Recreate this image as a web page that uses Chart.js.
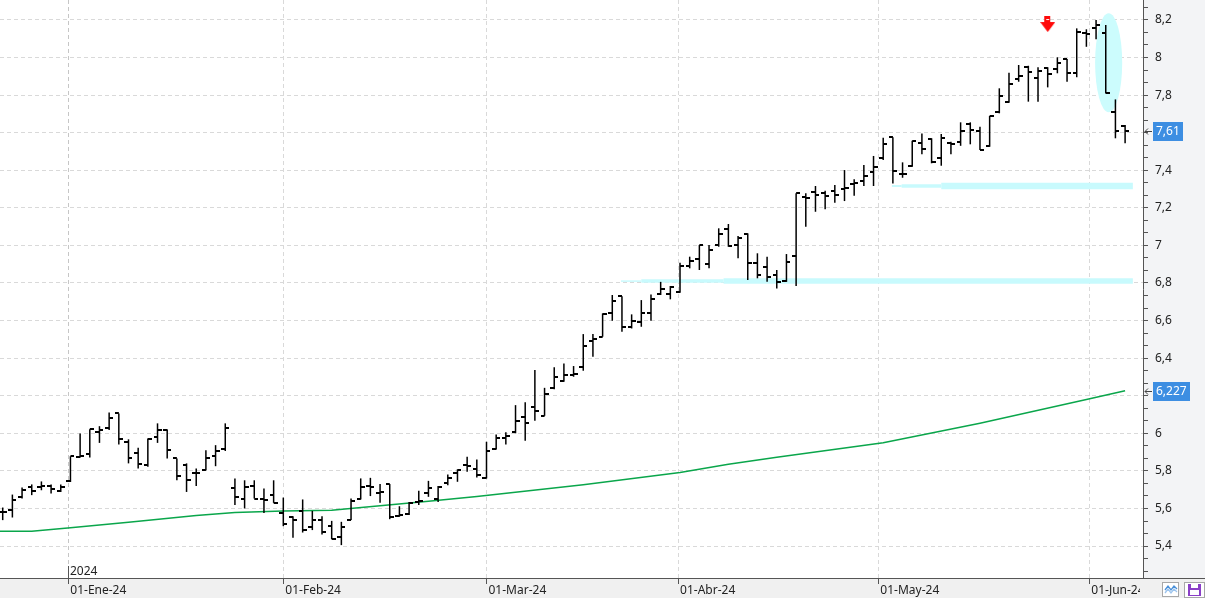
<!DOCTYPE html>
<html>
<head>
<meta charset="utf-8">
<title>Cotización diaria</title>
<script src="https://cdn.jsdelivr.net/npm/chart.js@4.4.1/dist/chart.umd.min.js"></script>
<style>
  html, body { margin: 0; padding: 0; background: #fff; }
  #chart { display: block; }
</style>
</head>
<body>
<canvas id="chart" width="1205" height="598"></canvas>
<script>
// Daily sessions, 19-Dic-23 .. 06-Jun-24 (x = position in these arrays)
const openPrices = [
  5.579, 5.591, 5.662, 5.715, 5.713, 5.719, 5.692, 5.745, 5.874, 5.892,
  6.008, 6.029, 6.106, 5.955, 5.897, 5.831, 5.978, 6.020, 5.866, 5.831,
  5.787, 5.807, 5.878, 5.919, 5.710, 5.653, 5.719, 5.653, 5.671, 5.576,
  5.552, 5.587, 5.499, 5.538, 5.506, 5.449, 5.541, 5.653, 5.719, 5.685,
  5.730, 5.559, 5.570, 5.635, 5.683, 5.650, 5.737, 5.790, 5.831, 5.808,
  5.762, 5.916, 5.973, 6.005, 6.085, 6.141, 6.093, 6.239, 6.278, 6.310,
  6.354, 6.493, 6.514, 6.642, 6.730, 6.564, 6.590, 6.642, 6.739, 6.739,
  6.752, 6.890, 6.926, 6.901, 7.002, 7.085, 7.002, 7.059, 6.904, 6.886,
  6.842, 6.812, 6.945, 7.256, 7.282, 7.280, 7.291, 7.298, 7.327, 7.343,
  7.389, 7.463, 7.575, 7.380, 7.424, 7.546, 7.566, 7.463, 7.543, 7.552,
  7.646, 7.609, 7.529, 7.708, 7.765, 7.885, 7.951, 7.889, 7.942, 7.937,
  7.990, 7.919, 8.129, 8.155, 8.129, 7.708, 7.637
]
const highPrices = [
  5.605, 5.674, 5.712, 5.728, 5.744, 5.728, 5.728, 5.878, 5.999, 6.022,
  6.038, 6.111, 6.106, 5.968, 5.923, 5.973, 6.053, 6.020, 5.866, 5.840,
  5.813, 5.910, 5.937, 6.053, 5.760, 5.750, 5.750, 5.706, 5.750, 5.658,
  5.559, 5.648, 5.587, 5.559, 5.534, 5.529, 5.653, 5.760, 5.763, 5.730,
  5.730, 5.612, 5.635, 5.694, 5.747, 5.719, 5.781, 5.808, 5.875, 5.861,
  5.955, 5.994, 6.005, 6.150, 6.165, 6.337, 6.242, 6.351, 6.372, 6.358,
  6.528, 6.528, 6.638, 6.736, 6.730, 6.633, 6.709, 6.739, 6.806, 6.784,
  6.908, 6.940, 7.002, 7.002, 7.091, 7.114, 7.050, 7.064, 6.958, 6.940,
  6.869, 6.954, 7.277, 7.277, 7.316, 7.291, 7.321, 7.401, 7.352, 7.428,
  7.476, 7.573, 7.575, 7.442, 7.557, 7.596, 7.570, 7.593, 7.552, 7.655,
  7.655, 7.632, 7.689, 7.836, 7.919, 7.960, 7.956, 7.948, 7.948, 8.001,
  7.992, 8.155, 8.150, 8.200, 8.173, 7.777, 7.641
]
const lowPrices = [
  5.538, 5.552, 5.653, 5.671, 5.697, 5.680, 5.688, 5.741, 5.871, 5.871,
  5.949, 6.017, 5.941, 5.840, 5.813, 5.822, 5.949, 5.866, 5.750, 5.688,
  5.720, 5.804, 5.825, 5.906, 5.618, 5.600, 5.653, 5.576, 5.630, 5.506,
  5.444, 5.472, 5.485, 5.462, 5.437, 5.405, 5.538, 5.648, 5.666, 5.630,
  5.543, 5.556, 5.565, 5.618, 5.662, 5.635, 5.724, 5.742, 5.795, 5.765,
  5.760, 5.914, 5.941, 6.000, 5.960, 6.067, 6.093, 6.234, 6.274, 6.301,
  6.333, 6.407, 6.514, 6.599, 6.540, 6.558, 6.567, 6.599, 6.736, 6.713,
  6.748, 6.878, 6.869, 6.878, 6.993, 6.993, 6.931, 6.816, 6.825, 6.806,
  6.771, 6.806, 6.784, 7.099, 7.179, 7.192, 7.227, 7.236, 7.264, 7.316,
  7.316, 7.454, 7.330, 7.360, 7.419, 7.485, 7.437, 7.424, 7.485, 7.530,
  7.538, 7.508, 7.525, 7.703, 7.759, 7.871, 7.765, 7.765, 7.841, 7.916,
  7.871, 7.895, 8.057, 8.097, 7.809, 7.570, 7.543
]
const closePrices = [
  5.580, 5.644, 5.697, 5.694, 5.719, 5.706, 5.715, 5.878, 5.878, 6.022,
  6.020, 6.079, 5.968, 5.866, 5.835, 5.968, 6.020, 5.910, 5.772, 5.750,
  5.790, 5.871, 5.906, 6.026, 5.662, 5.715, 5.653, 5.644, 5.630, 5.520,
  5.538, 5.488, 5.538, 5.476, 5.440, 5.502, 5.640, 5.712, 5.715, 5.688,
  5.556, 5.565, 5.630, 5.639, 5.707, 5.715, 5.763, 5.804, 5.825, 5.778,
  5.908, 5.973, 5.987, 6.065, 6.053, 6.118, 6.209, 6.298, 6.310, 6.314,
  6.466, 6.500, 6.635, 6.704, 6.567, 6.597, 6.642, 6.714, 6.766, 6.777,
  6.890, 6.918, 7.002, 6.975, 7.059, 6.997, 7.037, 6.904, 6.842, 6.833,
  6.806, 6.910, 7.277, 7.250, 7.268, 7.263, 7.268, 7.304, 7.330, 7.369,
  7.416, 7.538, 7.396, 7.380, 7.557, 7.511, 7.442, 7.570, 7.540, 7.609,
  7.614, 7.508, 7.689, 7.797, 7.857, 7.903, 7.924, 7.930, 7.912, 7.972,
  7.919, 8.134, 8.125, 8.173, 7.809, 7.610, 7.610
]

// Moving average (green), read at these sessions
const maIdx = [-1, 3, 7, 13, 20, 24, 29, 34, 39, 44, 49, 60, 70, 75, 80, 91, 101, 112, 116]
const maVal = [5.479, 5.479, 5.497, 5.527, 5.563, 5.578, 5.587, 5.591, 5.614, 5.638, 5.664,
  5.726, 5.792, 5.835, 5.872, 5.950, 6.054, 6.180, 6.227]

// Hand drawn marks: support levels, the ellipse and the red arrow
const level1Idx = [63.9, 66.0, 74.5, 116.8]
const level1Val = 6.81
const level2Idx = [91.9, 92.9, 97.0, 116.8]
const level2Val = 7.316
const ellipseIdx = 114.3
const ellipseVal = 7.972
const ellipseHalfIdx = 1.4
const ellipseHalfVal = 0.264
const arrowIdx = [108]
const arrowVal = [8.178]

// Axes
const xMin = -0.28
const xMax = 117.85
const monthTickIdx = [6.78, 29.0, 50.0, 69.8, 90.5, 112.3]
const monthLabels = ["01-Ene-24", "01-Feb-24", "01-Mar-24", "01-Abr-24", "01-May-24", "01-Jun-24"]
const yearLabel = "2024"
const yMin = 5.23
const yMax = 8.306
const majorTicks = [5.4, 5.6, 5.8, 6.0, 6.2, 6.4, 6.6, 6.8, 7.0, 7.2, 7.4, 7.6, 7.8, 8.0, 8.2]
const minorPerMajor = 3

const FONT = '"Noto Sans", "DejaVu Sans", sans-serif'

function fmtNum(v, dec) {
  return String(Number(v.toFixed(dec))).replace(".", ",")
}

// y ticks: majors plus two minor marks between each pair
const yTicks = []
const step = (majorTicks[1] - majorTicks[0]) / minorPerMajor
for (let j = minorPerMajor - 1; j > 0; j--) {
  const v = majorTicks[0] - j * step
  if (v > yMin) yTicks.push({ value: v, isMajor: false })
}
majorTicks.forEach((m) => {
  yTicks.push({ value: m, isMajor: true })
  for (let j = 1; j < minorPerMajor; j++) {
    const v = m + j * step
    if (v < yMax) yTicks.push({ value: v, isMajor: false })
  }
})

// small canvases used as point styles
function makeTick(side) {
  const c = document.createElement("canvas")
  c.width = 8
  c.height = 2
  const g = c.getContext("2d")
  g.fillStyle = "#000"
  g.fillRect(side === "left" ? 0 : 4, 0, 4, 2)
  return c
}

function makeArrow() {
  const c = document.createElement("canvas")
  c.width = 15
  c.height = 16
  const g = c.getContext("2d")
  g.fillStyle = "#ff0a0a"
  g.fillRect(4, 0, 6, 7)
  g.beginPath()
  g.moveTo(0, 6)
  g.lineTo(15, 6)
  g.lineTo(7.5, 16)
  g.closePath()
  g.fill()
  g.fillStyle = "#fff"
  g.fillRect(6, 3, 3, 1)
  return c
}

const rangeBars = lowPrices.map((lo, k) => ({ x: k, y: [lo, highPrices[k]] }))
const openPoints = openPrices.map((v, k) => ({ x: k, y: v }))
const closePoints = closePrices.map((v, k) => ({ x: k, y: v }))
const maPoints = maIdx.map((x, k) => ({ x: x, y: maVal[k] }))

// Backgrounds of the axis panels
const panelPlugin = {
  id: "panels",
  beforeDraw(chart) {
    const { ctx, chartArea: a, width, height } = chart
    ctx.save()
    ctx.fillStyle = "#fff"
    ctx.fillRect(0, 0, width, height)
    ctx.fillStyle = "#f3f4f6"
    ctx.fillRect(a.right, 0, width - a.right, a.bottom)
    ctx.fillStyle = "#f0f0f0"
    ctx.fillRect(0, a.bottom, width, height - a.bottom)
    ctx.restore()
  },
}

// Cyan ellipse behind the bars
const ellipsePlugin = {
  id: "ellipse",
  beforeDatasetsDraw(chart) {
    const { ctx, scales } = chart
    const cx = scales.x.getPixelForValue(ellipseIdx)
    const cy = scales.y.getPixelForValue(ellipseVal)
    const rx = Math.abs(scales.x.getPixelForValue(ellipseIdx + ellipseHalfIdx) - cx)
    const ry = Math.abs(scales.y.getPixelForValue(ellipseVal + ellipseHalfVal) - cy)
    ctx.save()
    ctx.fillStyle = "#ccfcfd"
    ctx.beginPath()
    ctx.ellipse(cx, cy, rx, ry, 0, 0, Math.PI * 2)
    ctx.fill()
    ctx.restore()
  },
}

// Year marker, price tags and the small buttons
const overlayPlugin = {
  id: "overlay",
  afterDraw(chart) {
    const { ctx, chartArea: a, scales, width, height } = chart
    ctx.save()

    // year marker on the first month line
    const yx = Math.round(scales.x.getPixelForValue(monthTickIdx[0])) + 0.5
    ctx.strokeStyle = "#555"
    ctx.lineWidth = 1
    ctx.beginPath()
    ctx.moveTo(yx, a.bottom - 12)
    ctx.lineTo(yx, a.bottom)
    ctx.stroke()
    ctx.fillStyle = "#222"
    ctx.font = "12px " + FONT
    ctx.textBaseline = "alphabetic"
    ctx.fillText(yearLabel, yx + 1.5, a.bottom - 3)

    // corner under the price axis
    ctx.fillStyle = "#f0f0f0"
    ctx.fillRect(a.right - 3, a.bottom + 1, width - a.right + 3, height - a.bottom)
    ctx.strokeStyle = "#555"
    ctx.beginPath()
    ctx.moveTo(a.right, a.bottom + 0.5)
    ctx.lineTo(width, a.bottom + 0.5)
    ctx.stroke()

    // buttons
    ctx.fillStyle = "#fff"
    ctx.strokeStyle = "#a8a8a8"
    ctx.fillRect(1162.5, 582.5, 16, 14)
    ctx.strokeRect(1162.5, 582.5, 16, 14)
    ctx.fillRect(1184.5, 582.5, 20, 15)
    ctx.strokeRect(1184.5, 582.5, 20, 15)
    ctx.lineWidth = 1.3
    ctx.strokeStyle = "#4a90d9"
    ctx.beginPath()
    ctx.moveTo(1165, 590); ctx.lineTo(1168, 586); ctx.lineTo(1171, 590); ctx.lineTo(1174, 586); ctx.lineTo(1177, 589)
    ctx.stroke()
    ctx.strokeStyle = "#9cc4ee"
    ctx.beginPath()
    ctx.moveTo(1165, 593); ctx.lineTo(1168, 589); ctx.lineTo(1171, 593); ctx.lineTo(1174, 589); ctx.lineTo(1177, 592)
    ctx.stroke()
    ctx.fillStyle = "#8a3fc7"
    ctx.fillRect(1188, 584, 13, 12)
    ctx.fillStyle = "#fff"
    ctx.fillRect(1191, 584, 7, 4)
    ctx.fillRect(1190, 590, 9, 5)

    // price tags
    const tags = [
      { value: closePrices[closePrices.length - 1], text: fmtNum(closePrices[closePrices.length - 1], 2) },
      { value: maVal[maVal.length - 1], text: fmtNum(maVal[maVal.length - 1], 3) },
    ]
    ctx.font = "12px " + FONT
    ctx.textBaseline = "middle"
    tags.forEach((t) => {
      const y = Math.round(scales.y.getPixelForValue(t.value))
      const w = Math.round(ctx.measureText(t.text).width) + 6
      ctx.fillStyle = "#3d8ee2"
      ctx.fillRect(a.right + 10, y - 9, w, 19)
      ctx.fillStyle = "#fff"
      ctx.fillText(t.text, a.right + 13, y + 0.5)
      ctx.strokeStyle = "#444"
      ctx.lineWidth = 1
      ctx.beginPath()
      ctx.moveTo(a.right + 2, y + 0.5)
      ctx.lineTo(a.right + 9, y + 0.5)
      ctx.moveTo(a.right + 5, y - 2.5)
      ctx.lineTo(a.right + 2, y + 0.5)
      ctx.lineTo(a.right + 5, y + 3.5)
      ctx.stroke()
    })
    ctx.restore()
  },
}

const chart = new Chart(document.getElementById("chart"), {
  type: "bar",
  data: {
    datasets: [
      {
        type: "line",
        data: level1Idx.map((x) => ({ x: x, y: level1Val })),
        borderColor: "#c8fafd",
        pointRadius: 0,
        segment: { borderWidth: (c) => [1.5, 3.5, 5.5][c.p0DataIndex] },
        order: 6,
      },
      {
        type: "line",
        data: level2Idx.map((x) => ({ x: x, y: level2Val })),
        borderColor: "#c8fafd",
        pointRadius: 0,
        segment: { borderWidth: (c) => [2, 3.5, 6.5][c.p0DataIndex] },
        order: 6,
      },
      {
        type: "line",
        data: maPoints,
        borderColor: "#0aa64b",
        borderWidth: 1.5,
        pointRadius: 0,
        order: 5,
      },
      {
        type: "bar",
        data: rangeBars,
        backgroundColor: "#000",
        barThickness: 1.5,
        inflateAmount: 0,
        borderWidth: 0,
        order: 4,
      },
      {
        type: "scatter",
        data: openPoints,
        pointStyle: makeTick("left"),
        pointRadius: 3,
        order: 3,
      },
      {
        type: "scatter",
        data: closePoints,
        pointStyle: makeTick("right"),
        pointRadius: 3,
        order: 3,
      },
      {
        type: "scatter",
        data: arrowIdx.map((x, k) => ({ x: x, y: arrowVal[k] })),
        pointStyle: makeArrow(),
        pointRadius: 8,
        order: 1,
      },
    ],
  },
  options: {
    responsive: false,
    animation: false,
    events: [],
    layout: { padding: 0, autoPadding: false },
    plugins: {
      legend: { display: false },
      tooltip: { enabled: false },
    },
    scales: {
      x: {
        type: "linear",
        min: xMin,
        max: xMax,
        offset: false,
        afterBuildTicks: (s) => {
          s.ticks = monthTickIdx.map((v) => ({ value: v }))
        },
        afterFit: (s) => {
          s.height = 20
          s.paddingLeft = 0
          s.paddingRight = 0
        },
        grid: {
          offset: false,
          // the year line is a bit darker than the month lines
          color: (c) => (c.index === 0 ? "#c6c6c6" : "#d9d9d9"),
          tickColor: "#555",
          tickLength: 6,
        },
        border: { color: "#555", dash: [4, 3] },
        ticks: {
          autoSkip: false,
          maxRotation: 0,
          align: "start",
          labelOffset: 2,
          padding: -1,
          color: "#222",
          font: { family: FONT, size: 12 },
          callback: (v, i) => monthLabels[i],
        },
      },
      y: {
        type: "linear",
        position: "right",
        min: yMin,
        max: yMax,
        afterBuildTicks: (s) => {
          s.ticks = yTicks.map((t) => ({ value: t.value, isMajor: t.isMajor }))
        },
        afterFit: (s) => {
          s.width = 62
          s.paddingTop = 0
          s.paddingBottom = 0
        },
        grid: {
          color: (c) => (c.tick && c.tick.isMajor ? "#d9d9d9" : "rgba(0,0,0,0)"),
          tickColor: "#555",
          tickLength: 5,
        },
        border: { color: "#555", dash: [4, 3] },
        ticks: {
          autoSkip: false,
          padding: 7,
          color: "#222",
          font: { family: FONT, size: 12 },
          callback: (v, i, ticks) => (ticks[i].isMajor ? fmtNum(v, 1) : ""),
        },
      },
    },
  },
  plugins: [panelPlugin, ellipsePlugin, overlayPlugin],
})
</script>
</body>
</html>
